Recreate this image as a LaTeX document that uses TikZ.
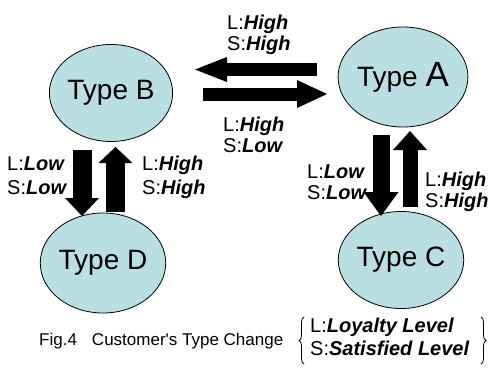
\documentclass[tikz,border=0pt]{standalone}
\usepackage{fontspec}
\setmainfont{Liberation Sans}
\usetikzlibrary{shapes.geometric,arrows.meta,decorations.pathreplacing}
\definecolor{typefill}{RGB}{185,223,227}
\newcommand{\bi}[1]{\textbf{\textit{#1}}}
\begin{document}
\begin{tikzpicture}[x=1bp,y=1bp,
  typenode/.style={ellipse,draw=black,line width=0.8bp,fill=typefill,
    inner sep=0pt,minimum width=122bp,minimum height=97bp,
    font=\fontsize{28bp}{32bp}\selectfont},
  % anchored at the baseline of the second line
  lvl/.style={anchor=base west,inner sep=0pt,align=left,
    font=\fontsize{20bp}{21bp}\selectfont},
  blockarrow/.style={draw=black,line cap=butt}
]
\useasboundingbox (0,0) rectangle (491,367);

% customer types
\node[typenode] (B) at (111,274) {Type B};
\node[typenode,minimum height=100bp] (A) at (403,290) {Type {\fontsize{35bp}{38bp}\selectfont A}};
\node[typenode,minimum height=100bp] (D) at (103,104) {Type D};
\node[typenode] (C) at (401,107) {Type C};

% end points of the block arrows
\coordinate (ab0) at (317,297.5); \coordinate (ab1) at (195,297.5);
\coordinate (ba0) at (203,273);   \coordinate (ba1) at (327,273);
\coordinate (bd0) at (82,217);    \coordinate (bd1) at (82,151);
\coordinate (db0) at (115.5,155); \coordinate (db1) at (115.5,220);
\coordinate (ac0) at (381,232);   \coordinate (ac1) at (381,151);
\coordinate (ca0) at (410,160);   \coordinate (ca1) at (410,236);

\draw[blockarrow,line width=13bp,-{Triangle[width=25bp,length=32bp,line width=0pt]}] (ab0) -- (ab1);
\draw[blockarrow,line width=13bp,-{Triangle[width=28bp,length=30bp,line width=0pt]}] (ba0) -- (ba1);
\draw[blockarrow,line width=19bp,-{Triangle[width=34bp,length=18bp,line width=0pt]}] (bd0) -- (bd1);
\draw[blockarrow,line width=19bp,-{Triangle[width=34bp,length=16bp,line width=0pt]}] (db0) -- (db1);
\draw[blockarrow,line width=17bp,-{Triangle[width=35bp,length=24bp,line width=0pt]}] (ac0) -- (ac1);
\draw[blockarrow,line width=15bp,-{Triangle[width=34bp,length=19bp,line width=0pt]}] (ca0) -- (ca1);

% transition conditions
\node[lvl] (lab) at (227,317) {L:\bi{High}\\S:\bi{High}};
\node[lvl] (lba) at (223,215) {L:\bi{High}\\S:\bi{Low}};
\node[lvl] (lbd) at (7,173)   {L:\bi{Low}\\[3bp]S:\bi{Low}};
\node[lvl] (ldb) at (142,173) {L:\bi{High}\\[3bp]S:\bi{High}};
\node[lvl] (lac) at (307,168) {L:\bi{Low}\\S:\bi{Low}};
\node[lvl] (lca) at (425,160) {L:\bi{High}\\S:\bi{High}};

% caption and legend
\node[anchor=base west,inner sep=0pt,font=\fontsize{17bp}{20bp}\selectfont] (cap) at (39,22)
  {Fig.4\hspace{15bp}Customer\textquotesingle s Type Change};
\node[lvl,font=\fontsize{20bp}{23bp}\selectfont] (leg) at (310,12) {L:\bi{Loyalty Level}\\S:\bi{Satisfied Level}};
\coordinate (lb0) at (304,3);  \coordinate (lb1) at (304,50);
\coordinate (rb0) at (481,50); \coordinate (rb1) at (481,3);
\draw[line width=0.8bp,decorate,decoration={brace,amplitude=5bp}] (lb0) -- (lb1);
\draw[line width=0.8bp,decorate,decoration={brace,amplitude=5bp}] (rb0) -- (rb1);
\end{tikzpicture}
\end{document}
